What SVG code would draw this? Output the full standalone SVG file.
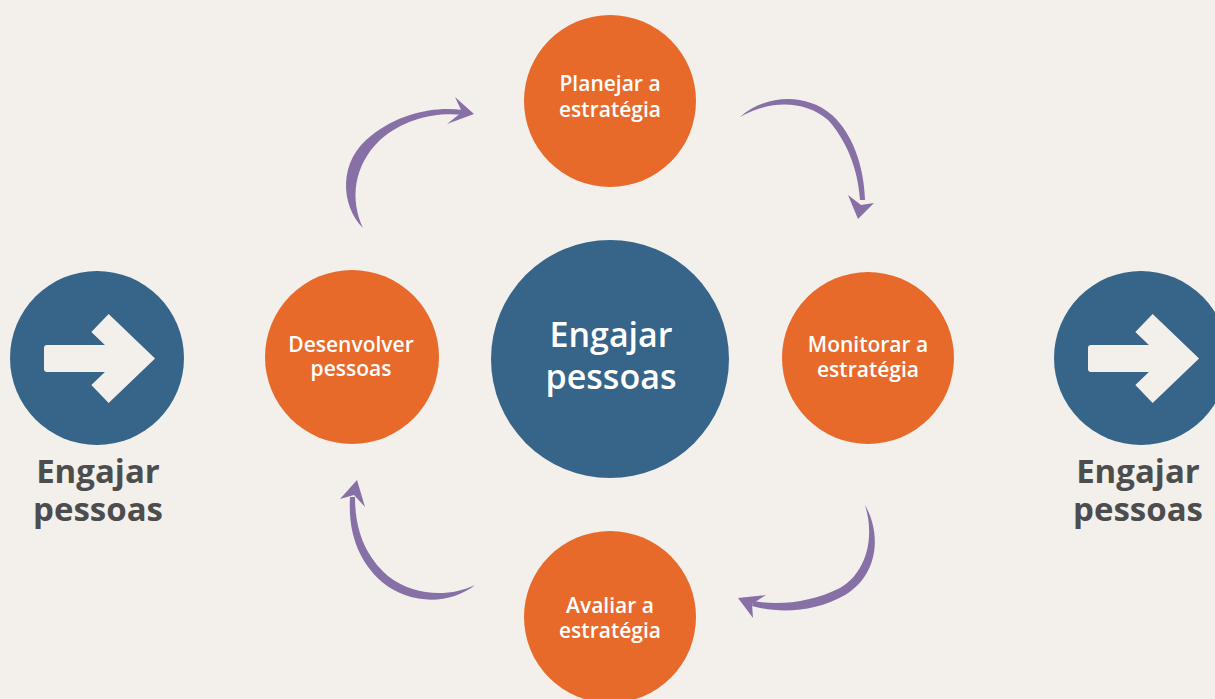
<svg xmlns="http://www.w3.org/2000/svg" width="1215" height="699" viewBox="0 0 1215 699">
  <defs>
    <style>
      .bg { fill: #f3f0eb; }
      .blue { fill: #376589; }
      .orange { fill: #e76a2b; }
      .curve { fill: #8670a6; }
      .glyph { fill: none; stroke: #f3f0eb; stroke-linejoin: miter; stroke-linecap: butt; }
      .t { font-family: "Open Sans", "Liberation Sans", sans-serif; text-anchor: middle; }
      .step { fill: #ffffff; font-size: 21px; font-weight: 600; }
      .core { fill: #ffffff; font-size: 34px; font-weight: 600; }
      .side { fill: #4d4d4d; font-size: 33px; font-weight: 700; }
    </style>
    <!-- right-pointing arrow icon, centred on the origin -->
    <g id="go-icon">
      <rect x="-53" y="-13" width="80" height="27" rx="3" fill="#f3f0eb"/>
      <polyline class="glyph" points="3,-35 40,0.5 3,36" stroke-width="25"/>
    </g>
  </defs>

  <rect class="bg" x="0" y="0" width="1215" height="699"/>

  <!-- curved cycle arrows -->
  <g id="connectors">
    <g id="arc-plan">
      <path class="curve" d="M363,228 C340,205 338,160 372,135 C400,113 435,106 463,110 L463,115 C437,112 405,118 380,140 C353,166 350,200 363,228 Z"/>
      <polygon class="curve" points="455,97 474,114 447,124 462,112"/>
    </g>
    <g id="arc-monitor">
      <path class="curve" d="M740,117 C765,95 805,92 832,115 C852,133 864,165 865,200 L860,200 C858,168 846,140 828,120 C803,99 768,101 740,117 Z"/>
      <polygon class="curve" points="848,195 858,219 874,203 861,205"/>
    </g>
    <g id="arc-evaluate">
      <path class="curve" d="M865,505 C882,535 878,575 845,595 C815,612 780,614 752,606 L753,601 C780,606 812,602 840,588 C867,572 875,537 865,505 Z"/>
      <polygon class="curve" points="766,595 738,598 753,618 752,604"/>
    </g>
    <g id="arc-develop">
      <path class="curve" d="M475,585 C450,605 410,605 382,582 C357,560 348,530 350,497 L355,497 C355,528 364,555 388,576 C415,597 450,597 475,585 Z"/>
      <polygon class="curve" points="340,499 357,480 365,507 354,495"/>
    </g>
  </g>

  <g id="start-node">
    <circle class="blue" cx="97" cy="358" r="87"/>
    <use href="#go-icon" x="97" y="358"/>
    <text class="t side"><tspan x="98" y="483">Engajar</tspan><tspan x="98" y="521">pessoas</tspan></text>
  </g>

  <g id="end-node">
    <circle class="blue" cx="1141" cy="358" r="87"/>
    <use href="#go-icon" x="1141" y="358"/>
    <text class="t side"><tspan x="1138" y="483">Engajar</tspan><tspan x="1138" y="521">pessoas</tspan></text>
  </g>

  <g id="center-node">
    <circle class="blue" cx="610" cy="359" r="119"/>
    <text class="t core"><tspan x="611" y="347">Engajar</tspan><tspan x="611" y="389">pessoas</tspan></text>
  </g>

  <g id="plan-node">
    <circle class="orange" cx="610" cy="101" r="86"/>
    <text class="t step"><tspan x="610" y="91">Planejar a</tspan><tspan x="610" y="117">estratégia</tspan></text>
  </g>

  <g id="develop-node">
    <circle class="orange" cx="352" cy="357" r="87"/>
    <text class="t step"><tspan x="351" y="352">Desenvolver</tspan><tspan x="351" y="376">pessoas</tspan></text>
  </g>

  <g id="monitor-node">
    <circle class="orange" cx="868" cy="358" r="86"/>
    <text class="t step"><tspan x="868" y="352">Monitorar a</tspan><tspan x="868" y="377">estratégia</tspan></text>
  </g>

  <g id="evaluate-node">
    <circle class="orange" cx="610" cy="617" r="86"/>
    <text class="t step"><tspan x="610" y="613">Avaliar a</tspan><tspan x="610" y="638">estratégia</tspan></text>
  </g>
</svg>
